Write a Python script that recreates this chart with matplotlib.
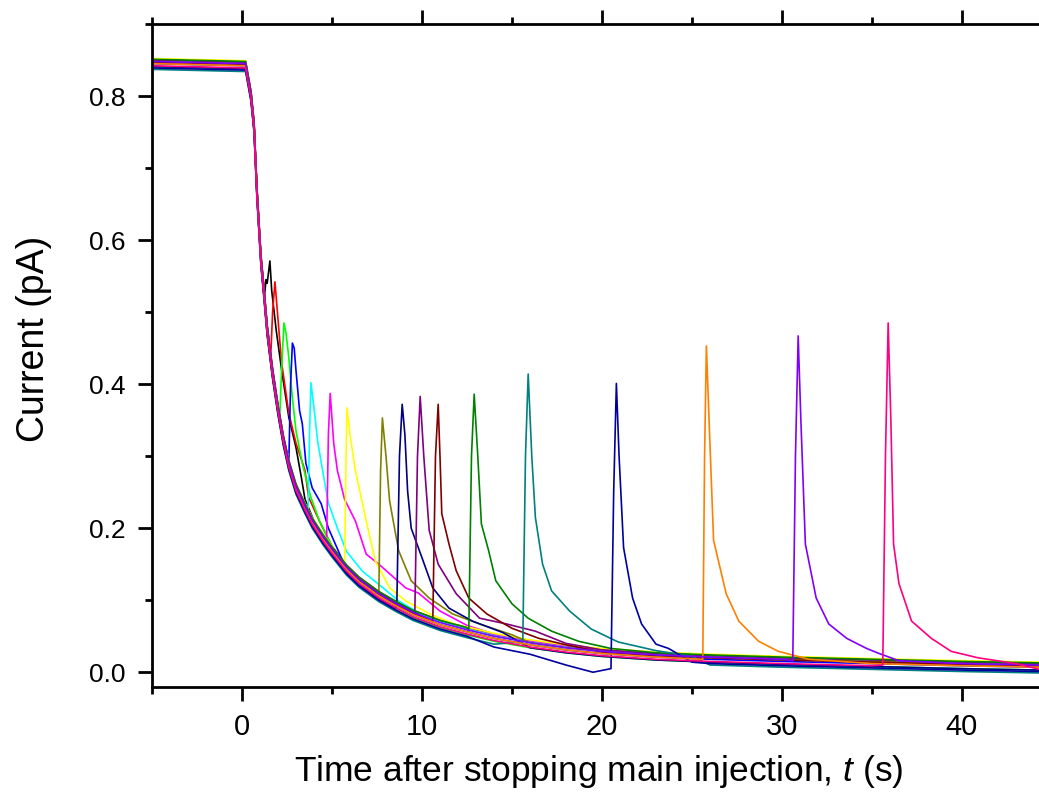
import numpy as np
import matplotlib.pyplot as plt
from matplotlib.ticker import MultipleLocator

plt.rcParams['mathtext.fontset'] = 'custom'
plt.rcParams['mathtext.it'] = 'Liberation Sans:italic'
plt.rcParams['mathtext.rm'] = 'Liberation Sans'

# common decay of all traces after the main injection stops (t in s, I in pA)
base_t = [-5, 0.2, 0.5, 0.67, 0.83, 1.05, 1.22, 1.4, 1.7, 2.0, 2.3, 2.6, 3.0, 3.5, 3.9, 4.5,
          5.0, 5.8, 6.5, 7.6, 8.5, 9.5, 11, 12.5, 14, 16, 18, 20, 23, 26, 30, 35, 40, 44.3]
base_i = [0.845, 0.842, 0.80, 0.757, 0.666, 0.573, 0.527, 0.475, 0.415, 0.365, 0.322, 0.288,
          0.255, 0.228, 0.208, 0.185, 0.168, 0.143, 0.126, 0.106, 0.093, 0.080, 0.066, 0.056,
          0.047, 0.038, 0.031, 0.026, 0.021, 0.018, 0.015, 0.012, 0.009, 0.007]

# Origin default colour sequence
colors = ['#000000', '#FF0000', '#00FF00', '#0000FF', '#00FFFF', '#FF00FF', '#FFFF00',
          '#808000', '#000080', '#800080', '#800000', '#008000', '#008080', '#0000A0',
          '#FF8000', '#8000FF', '#FF0080']

# level of each trace relative to the common decay
offsets = [0.004, 0.006, -0.004, 0.0, 0.004, 0.006, 0.007, 0.003, -0.004, 0.005, 0.002,
           0.006, -0.008, -0.006, 0.0, 0.003, -0.003]

# second-injection pulse of each trace
pulse_t = [
    [1.25, 1.33, 1.4, 1.55, 1.65, 1.9, 2.2, 2.6, 3.0, 3.3, 3.5, 4.0, 4.5],
    [1.6, 1.7, 1.83, 2.05, 2.2, 2.6, 3.0, 3.5, 3.7, 4.3, 5.0],
    [2.1, 2.2, 2.33, 2.45, 2.6, 2.8, 3.0, 3.35, 3.8, 4.3, 5.0],
    [2.6, 2.7, 2.8, 2.9, 3.0, 3.2, 3.35, 3.55, 3.9, 4.4, 4.8, 5.5],
    [3.67, 3.75, 3.83, 4.0, 4.2, 4.55, 4.8, 5.3, 5.8, 6.7, 7.6, 8.7, 10.0],
    [4.7, 4.8, 4.9, 5.1, 5.3, 5.7, 6.3, 6.9, 7.6, 9.1, 9.8, 11.0, 12.5],
    [5.7, 5.78, 5.83, 6.0, 6.3, 6.9, 7.4, 8.2, 9.1, 10.5, 12.0],
    [7.6, 7.7, 7.8, 8.0, 8.2, 8.7, 9.4, 10.4, 11.7, 13.2, 15.0],
    [8.6, 8.75, 8.9, 9.05, 9.2, 9.4, 10.0, 10.6, 11.5, 12.8, 14.5],
    [9.6, 9.75, 9.9, 10.1, 10.4, 10.9, 11.9, 13.2, 14.7, 16.3, 18.0],
    [10.6, 10.75, 10.9, 11.0, 11.1, 11.5, 11.9, 12.6, 13.6, 15.0, 16.5, 18.0],
    [12.6, 12.75, 12.9, 13.1, 13.3, 13.7, 14.1, 15.0, 15.9, 17.2, 18.7, 20.5],
    [15.6, 15.75, 15.9, 16.1, 16.3, 16.7, 17.2, 18.2, 19.4, 20.9, 23.0, 25.0],
    [14.0, 16.0, 18.0, 19.5, 20.5, 20.65, 20.8, 20.95, 21.2, 21.7, 22.2, 23.0, 23.7, 25.0],
    [25.6, 25.7, 25.8, 25.95, 26.2, 26.9, 27.6, 28.7, 29.8, 31.5],
    [30.6, 30.75, 30.9, 31.05, 31.3, 31.9, 32.6, 33.6, 34.7, 35.4, 36.5],
    [35.6, 35.75, 35.9, 36.05, 36.2, 36.5, 37.2, 38.3, 39.4, 40.9, 43.0],
]
pulse_i = [
    [0.52, 0.545, 0.54, 0.571, 0.53, 0.475, 0.42, 0.354, 0.312, 0.27, 0.24, 0.21, 0.19],
    [0.44, 0.50, 0.542, 0.475, 0.43, 0.36, 0.318, 0.28, 0.243, 0.21, 0.175],
    [0.355, 0.42, 0.485, 0.47, 0.437, 0.381, 0.335, 0.29, 0.245, 0.21, 0.175],
    [0.29, 0.40, 0.457, 0.45, 0.419, 0.363, 0.345, 0.29, 0.256, 0.234, 0.20, 0.16],
    [0.222, 0.33, 0.402, 0.367, 0.321, 0.27, 0.235, 0.20, 0.168, 0.14, 0.122, 0.099, 0.08],
    [0.18, 0.33, 0.387, 0.317, 0.28, 0.24, 0.21, 0.164, 0.15, 0.117, 0.11, 0.085, 0.065],
    [0.145, 0.30, 0.367, 0.33, 0.28, 0.21, 0.155, 0.117, 0.099, 0.08, 0.065],
    [0.106, 0.28, 0.353, 0.30, 0.238, 0.169, 0.127, 0.103, 0.081, 0.067, 0.052],
    [0.092, 0.30, 0.372, 0.33, 0.252, 0.20, 0.159, 0.117, 0.089, 0.071, 0.055],
    [0.079, 0.30, 0.383, 0.30, 0.197, 0.15, 0.109, 0.075, 0.067, 0.057, 0.040],
    [0.070, 0.30, 0.372, 0.30, 0.22, 0.178, 0.141, 0.103, 0.081, 0.061, 0.047, 0.038],
    [0.056, 0.30, 0.386, 0.30, 0.206, 0.169, 0.127, 0.095, 0.075, 0.057, 0.043, 0.033],
    [0.042, 0.30, 0.414, 0.30, 0.215, 0.15, 0.113, 0.085, 0.06, 0.042, 0.030, 0.022],
    [0.035, 0.025, 0.010, 0.0, 0.005, 0.25, 0.401, 0.30, 0.173, 0.103, 0.067, 0.039, 0.033, 0.014],
    [0.018, 0.30, 0.453, 0.35, 0.183, 0.109, 0.071, 0.043, 0.029, 0.018],
    [0.016, 0.30, 0.467, 0.35, 0.178, 0.103, 0.067, 0.047, 0.033, 0.026, 0.016],
    [0.010, 0.30, 0.485, 0.35, 0.178, 0.123, 0.071, 0.047, 0.029, 0.020, 0.012],
]


def trace(k):
    bt = np.array(base_t)
    bi = np.array(base_i) + offsets[k]
    pt = np.array(pulse_t[k])
    pi = np.array(pulse_i[k])
    before = bt < pt[0]
    after = bt > pt[-1]
    t = np.concatenate([bt[before], pt, bt[after]])
    i = np.concatenate([bi[before], pi, bi[after]])
    return t, i


fig = plt.figure(figsize=(10.39, 7.93), dpi=100)
ax = fig.add_axes([152 / 1039, 1 - 687 / 793, 887 / 1039, 663 / 793])

for k in range(len(colors)):
    t, i = trace(k)
    ax.plot(t, i, color=colors[k], lw=1.2)

ax.set_xlim(-5, 44.28)
ax.set_ylim(-0.0205, 0.9)
ax.xaxis.set_major_locator(MultipleLocator(10))
ax.xaxis.set_minor_locator(MultipleLocator(5))
ax.yaxis.set_major_locator(MultipleLocator(0.2))
ax.yaxis.set_minor_locator(MultipleLocator(0.1))
ax.yaxis.set_major_formatter(plt.FuncFormatter(lambda v, p: f'{v:.1f}'))

for s in ['top', 'left', 'bottom']:
    ax.spines[s].set_linewidth(2)
ax.spines['right'].set_visible(False)

ax.tick_params(which='both', direction='out', width=2, top=True, right=False)
ax.tick_params(which='major', length=10)
ax.tick_params(which='minor', length=5)
ax.tick_params(axis='y', pad=9)
ax.tick_params(axis='x', pad=9)

for lab in ax.get_xticklabels():
    lab.set_family('Liberation Sans')
    lab.set_fontsize(21)
for lab in ax.get_yticklabels():
    lab.set_family('Liberation Sans')
    lab.set_fontsize(19)

ax.set_xlabel('Time after stopping main injection, $t$ (s)', family='Liberation Sans',
              fontsize=25.5)
ax.set_ylabel('Current (pA)', family='Liberation Sans', fontsize=27)
ax.xaxis.set_label_coords(0.504, -0.1)
ax.yaxis.set_label_coords(-0.113, 0.525)

fig.savefig('out.png', dpi=100)
